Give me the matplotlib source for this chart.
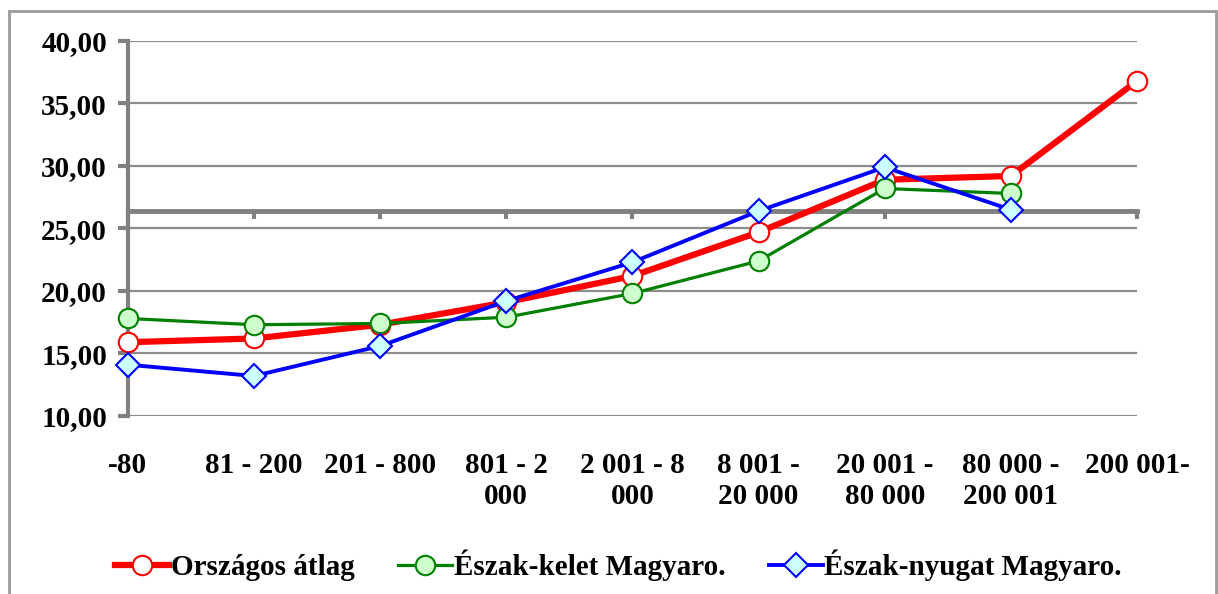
import matplotlib.pyplot as plt
from matplotlib.patches import Rectangle
from matplotlib.ticker import FuncFormatter

plt.rcParams['font.family'] = 'Liberation Serif'
plt.rcParams['font.weight'] = 'bold'
plt.rcParams['font.size'] = 21

# kategóriák (településméret)
kategoriak = ["-80", "81 - 200", "201 - 800", "801 - 2\n000", "2 001 - 8\n000",
              "8 001 -\n20 000", "20 001 -\n80 000", "80 000 -\n200 001", "200 001-"]

orszagos = [15.9, 16.2, 17.3, 19.1, 21.2, 24.7, 28.9, 29.2, 36.8]
eszak_kelet = [17.8, 17.3, 17.4, 17.9, 19.8, 22.4, 28.2, 27.8]
eszak_nyugat = [14.1, 13.2, 15.6, 19.2, 22.3, 26.4, 29.9, 26.5]

tengely_metszes = 26.4  # ahol a kategóriatengely metszi az értéktengelyt

fig = plt.figure(figsize=(12.18, 5.94), dpi=100)
ax = fig.add_axes([0.105, 0.2997, 0.8285, 0.6313])

grid_szin = '#8c8c8c'
tengely_szin = '#808080'

# keret a diagram körül
fig.patches.append(Rectangle((9 / 1218, -0.1), (1216 - 9) / 1218, 1.1 - 11 / 594,
                             transform=fig.transFigure, fill=False,
                             edgecolor='#9a9a9a', linewidth=2))

ax.plot(range(len(orszagos)), orszagos, color='#ff0000', linewidth=4.5,
        marker='o', markersize=14, markerfacecolor='white',
        markeredgecolor='#ff0000', markeredgewidth=1.5, zorder=4,
        clip_on=False, label='Országos átlag')
ax.plot(range(len(eszak_kelet)), eszak_kelet, color='#008000', linewidth=2.3,
        marker='o', markersize=14, markerfacecolor='#ccffcc',
        markeredgecolor='#008000', markeredgewidth=1.5, zorder=5,
        clip_on=False, label='Észak-kelet Magyaro.')
ax.plot(range(len(eszak_nyugat)), eszak_nyugat, color='#0000ff', linewidth=2.8,
        marker='D', markersize=12, markerfacecolor='#ccffff',
        markeredgecolor='#0000ff', markeredgewidth=1.5, zorder=6,
        clip_on=False, label='Észak-nyugat Magyaro.')

ax.set_xlim(0, len(kategoriak) - 1)
ax.set_ylim(10, 40)
ax.set_yticks(range(10, 41, 5))
ax.yaxis.set_major_formatter(FuncFormatter(lambda v, p: f'{v:.2f}'.replace('.', ',')))
ax.grid(axis='y', color=grid_szin, linewidth=1.6, zorder=0)
ax.set_axisbelow(True)

for s in ['top', 'right']:
    ax.spines[s].set_visible(False)
ax.spines['left'].set_color(tengely_szin)
ax.spines['left'].set_linewidth(3)
ax.spines['bottom'].set_position(('data', tengely_metszes))
ax.spines['bottom'].set_color(tengely_szin)
ax.spines['bottom'].set_linewidth(3.5)
ax.spines['bottom'].set_zorder(3)

ax.tick_params(axis='y', direction='out', length=7, width=3, color=tengely_szin, pad=8)
ax.set_xticks(range(len(kategoriak)))
ax.tick_params(axis='x', direction='out', length=6, width=3, color=tengely_szin,
               labelbottom=False)

# kategóriacímkék a diagram alján
sec = ax.secondary_xaxis('bottom')
sec.set_xticks(range(len(kategoriak)), kategoriak, linespacing=1.2, va='top')
sec.tick_params(length=0, pad=26)
sec.spines['bottom'].set_visible(False)

fig.legend(loc='lower center', bbox_to_anchor=(0.508, -0.022), ncol=3, frameon=False,
           handlelength=1.85, handletextpad=0.05, columnspacing=1.5,
           prop={'family': 'Liberation Serif', 'weight': 'bold', 'size': 21})

fig.savefig('out.png', dpi=100, facecolor='white')
